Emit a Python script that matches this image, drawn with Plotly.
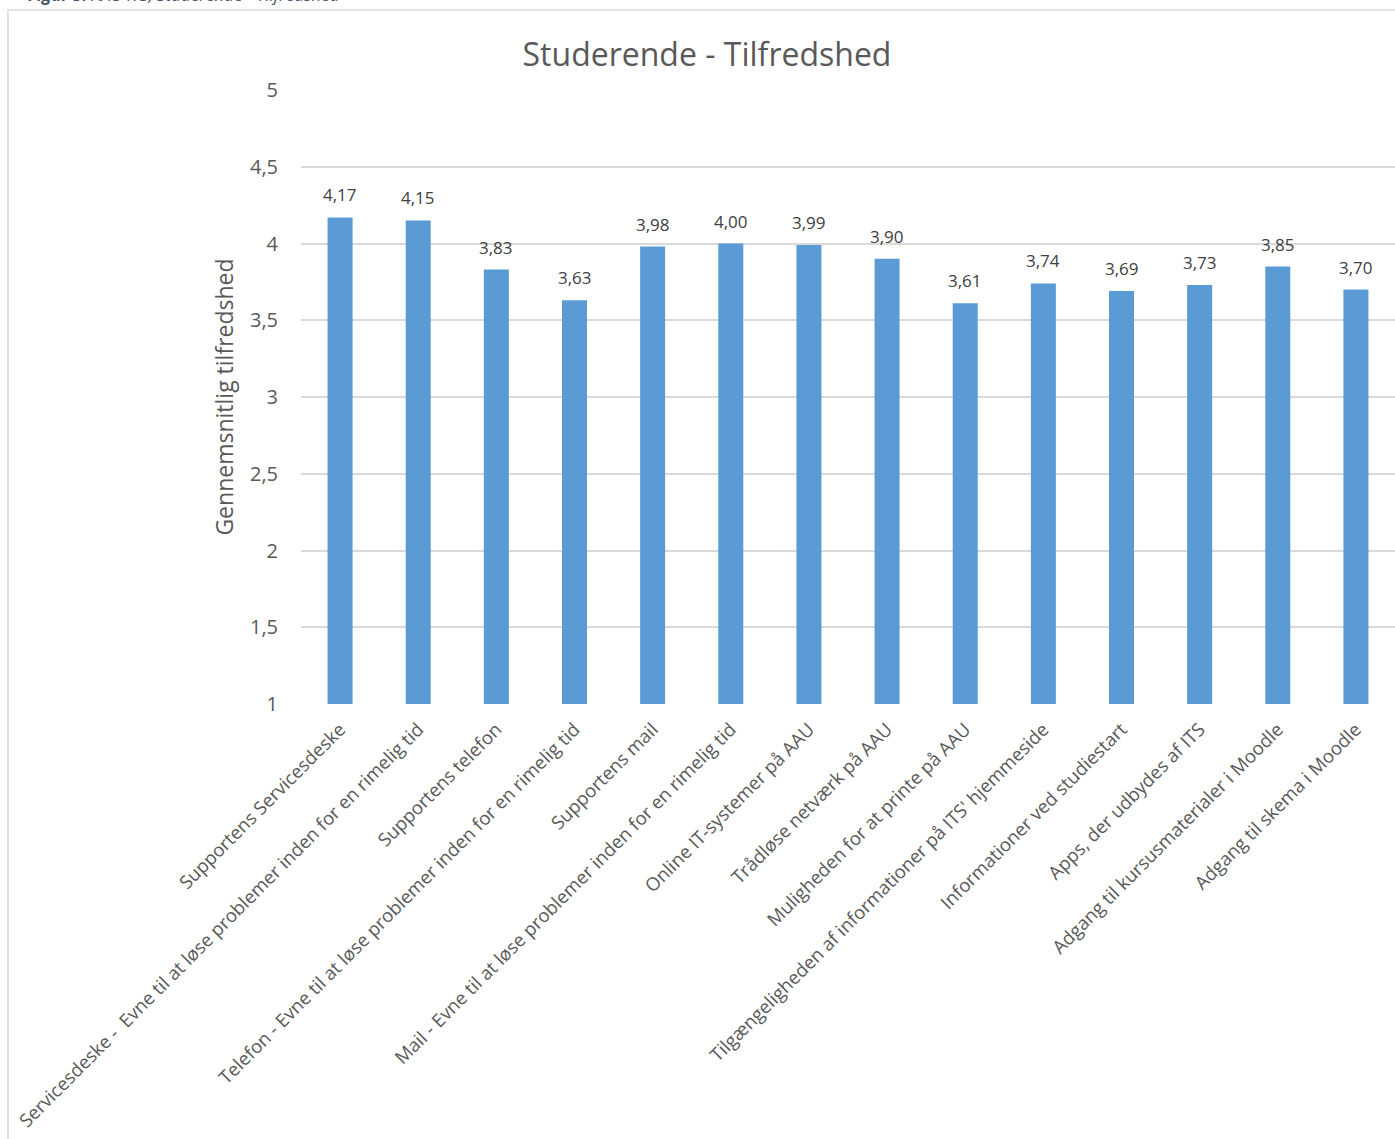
import plotly.graph_objects as go

categories = [
    "Supportens Servicesdeske",
    "Servicesdeske -  Evne til at løse problemer inden for en rimelig tid",
    "Supportens telefon",
    "Telefon - Evne til at løse problemer inden for en rimelig tid",
    "Supportens mail",
    "Mail - Evne til at løse problemer inden for en rimelig tid",
    "Online IT-systemer på AAU",
    "Trådløse netværk på AAU",
    "Muligheden for at printe på AAU",
    "Tilgængeligheden af informationer på ITS' hjemmeside",
    "Informationer ved studiestart",
    "Apps, der udbydes af ITS",
    "Adgang til kursusmaterialer i Moodle",
    "Adgang til skema i Moodle",
]
satisfaction = [4.17, 4.15, 3.83, 3.63, 3.98, 4.00, 3.99, 3.90, 3.61, 3.74, 3.69, 3.73, 3.85, 3.70]

FONT = "Open Sans"
W, H = 1395, 1139
L, R, T, B = 301, 0, 90, 435

fig = go.Figure(
    go.Bar(
        x=categories,
        y=satisfaction,
        marker=dict(color="#5b9bd5", line=dict(width=0)),
        width=0.32,
    )
)

# value labels above each bar
for cat, val in zip(categories, satisfaction):
    fig.add_annotation(
        x=cat, y=val, xref="x", yref="y",
        text=f"{val:.2f}".replace(".", ","),
        showarrow=False, yanchor="bottom", yshift=9,
        font=dict(family=FONT, size=17, color="#404040"),
    )

# panel frame and caption above it
pw = W - L - R
ph = H - T - B
def px_x(x):
    return (x - L) / pw
def px_y(y):
    return (H - B - y) / ph

fig.add_shape(
    type="rect", xref="paper", yref="paper",
    x0=px_x(8), x1=px_x(1420), y0=px_y(1160), y1=px_y(10),
    line=dict(color="#d9d9d9", width=1.5), fillcolor="rgba(0,0,0,0)", layer="below",
)
fig.add_annotation(
    xref="paper", yref="paper", x=px_x(26), y=px_y(8),
    xanchor="left", yanchor="bottom", showarrow=False,
    text="<b><i>Figur 5:</i></b><i> AAU ITS, Studerende - Tilfredshed</i>",
    font=dict(family=FONT, size=17, color="#44546a"),
)

fig.update_layout(
    width=W, height=H,
    margin=dict(l=L, r=R, t=T, b=B),
    paper_bgcolor="white", plot_bgcolor="white",
    separators=",.",
    showlegend=False,
    bargap=0.68,
    title=dict(
        text="Studerende - Tilfredshed",
        x=707 / W, xref="container", xanchor="center",
        y=1 - 55 / H, yref="container", yanchor="middle",
        font=dict(family=FONT, size=32, color="#595959"),
    ),
    xaxis=dict(
        tickangle=-45,
        tickfont=dict(family=FONT, size=18.5, color="#595959"),
        showgrid=False, showline=False, ticks="",
        ticklabelstandoff=10,
    ),
    yaxis=dict(
        range=[1, 5], dtick=0.5,
        tickfont=dict(family=FONT, size=20, color="#595959"),
        gridcolor="#d9d9d9", gridwidth=1.5,
        zeroline=False, showline=False, ticks="",
        ticklabelstandoff=22,
        title=dict(
            text="Gennemsnitlig tilfredshed",
            font=dict(family=FONT, size=23, color="#595959"),
            standoff=9,
        ),
    ),
)

fig.write_html("out.html")
